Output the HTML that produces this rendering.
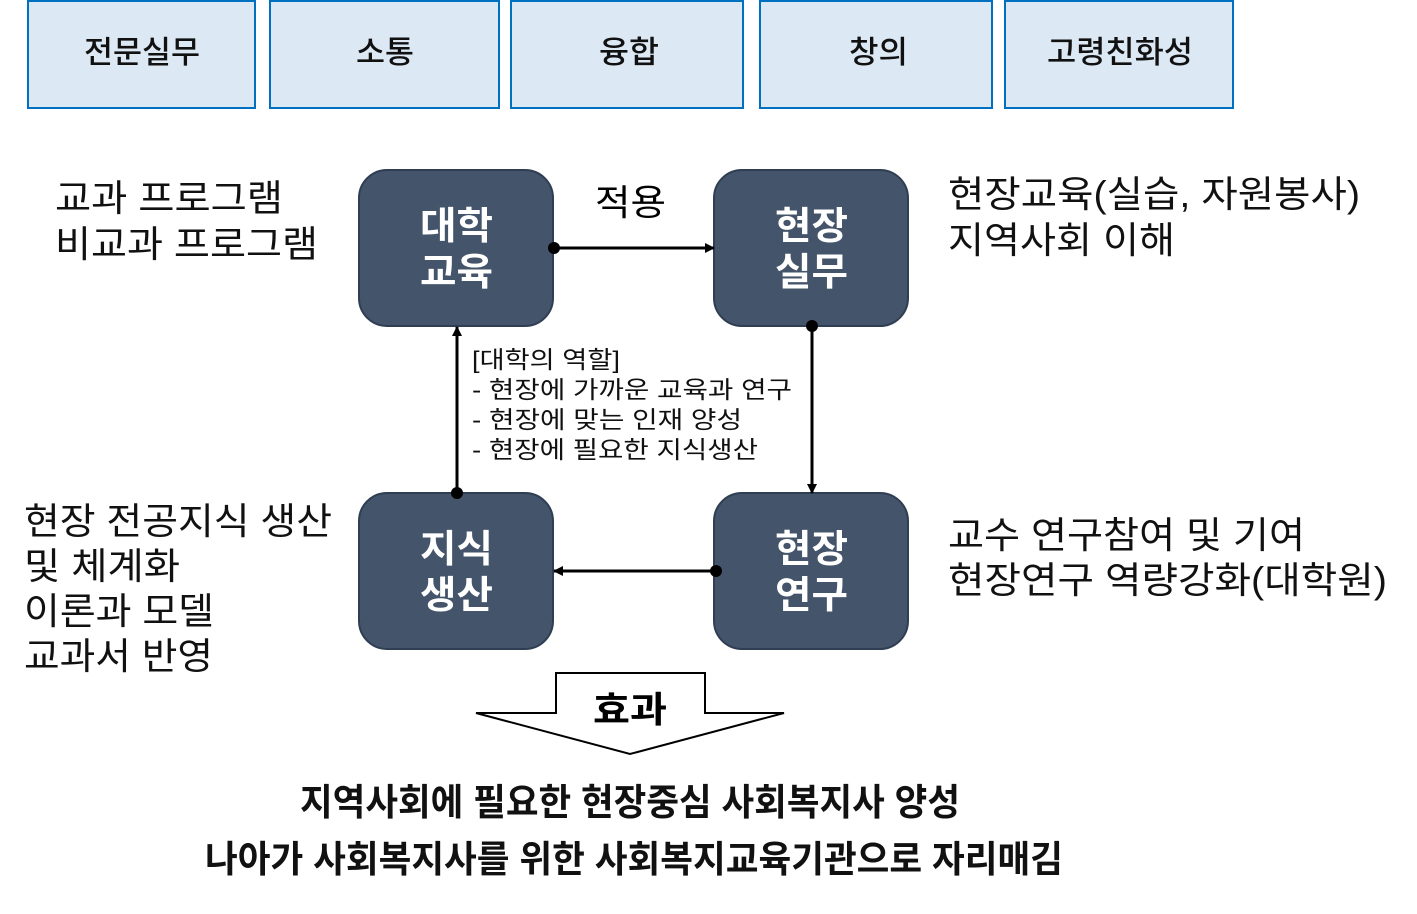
<!DOCTYPE html>
<html><head><meta charset="utf-8"><style>
html,body{margin:0;padding:0;background:#fff;}
svg text{font-family:"Liberation Sans","Noto Sans CJK KR",sans-serif;}
</style></head><body>
<svg width="1417" height="909" viewBox="0 0 1417 909" xmlns="http://www.w3.org/2000/svg">
<defs><marker id="a" markerWidth="10" markerHeight="10" refX="9" refY="5" orient="auto" markerUnits="userSpaceOnUse"><path d="M0,0 L10,5 L0,10 z" fill="#000"/></marker></defs>
<g fill="#dde8f5" stroke="#0070c0" stroke-width="2">
<rect x="28" y="1" width="227" height="107"/>
<rect x="270" y="1" width="229" height="107"/>
<rect x="511" y="1" width="232" height="107"/>
<rect x="760" y="1" width="232" height="107"/>
<rect x="1005" y="1" width="228" height="107"/>
</g>
<g font-size="31" font-weight="500" fill="#111" lengthAdjust="spacingAndGlyphs">
<text x="84" y="63" textLength="116" lengthAdjust="spacingAndGlyphs">전문실무</text>
<text x="356" y="63" textLength="58" lengthAdjust="spacingAndGlyphs">소통</text>
<text x="599" y="63" textLength="60" lengthAdjust="spacingAndGlyphs">융합</text>
<text x="849" y="63" textLength="59" lengthAdjust="spacingAndGlyphs">창의</text>
<text x="1047" y="63" textLength="146" lengthAdjust="spacingAndGlyphs">고령친화성</text>
</g>
<g fill="#44546a" stroke="#2f3e52" stroke-width="2">
<rect x="359" y="170" width="194" height="156" rx="28"/>
<rect x="714" y="170" width="194" height="156" rx="28"/>
<rect x="359" y="493" width="194" height="156" rx="28"/>
<rect x="714" y="493" width="194" height="156" rx="28"/>
</g>
<g font-size="38" font-weight="bold" fill="#fff">
<text x="420" y="239" textLength="73" lengthAdjust="spacingAndGlyphs">대학</text><text x="420" y="285" textLength="73" lengthAdjust="spacingAndGlyphs">교육</text>
<text x="775" y="239" textLength="73" lengthAdjust="spacingAndGlyphs">현장</text><text x="775" y="285" textLength="73" lengthAdjust="spacingAndGlyphs">실무</text>
<text x="420" y="562" textLength="73" lengthAdjust="spacingAndGlyphs">지식</text><text x="420" y="608" textLength="73" lengthAdjust="spacingAndGlyphs">생산</text>
<text x="775" y="562" textLength="73" lengthAdjust="spacingAndGlyphs">현장</text><text x="775" y="608" textLength="73" lengthAdjust="spacingAndGlyphs">연구</text>
</g>
<g stroke="#000" stroke-width="3" fill="none">
<line x1="554" y1="248" x2="714" y2="248" marker-end="url(#a)"/>
<line x1="812" y1="326" x2="812" y2="493" marker-end="url(#a)"/>
<line x1="716" y1="571" x2="554" y2="571" marker-end="url(#a)"/>
<line x1="457" y1="493" x2="457" y2="327" marker-end="url(#a)"/>
</g>
<g fill="#000"><circle cx="554" cy="248" r="6"/><circle cx="812" cy="326" r="6"/><circle cx="716" cy="571" r="6"/><circle cx="457" cy="493" r="6"/></g>
<text x="595" y="215" font-size="36" textLength="71" lengthAdjust="spacingAndGlyphs">적용</text>
<g font-size="24" fill="#111">
<text x="472" y="368" textLength="148" lengthAdjust="spacingAndGlyphs">[대학의 역할]</text>
<text x="472" y="398" textLength="320" lengthAdjust="spacingAndGlyphs">- 현장에 가까운 교육과 연구</text>
<text x="472" y="428" textLength="270" lengthAdjust="spacingAndGlyphs">- 현장에 맞는 인재 양성</text>
<text x="472" y="458" textLength="286" lengthAdjust="spacingAndGlyphs">- 현장에 필요한 지식생산</text>
</g>
<g font-size="37" fill="#111">
<text x="55" y="211" textLength="228" lengthAdjust="spacingAndGlyphs">교과 프로그램</text>
<text x="55" y="257" textLength="263" lengthAdjust="spacingAndGlyphs">비교과 프로그램</text>
<text x="948" y="207" textLength="412" lengthAdjust="spacingAndGlyphs">현장교육(실습, 자원봉사)</text>
<text x="948" y="253" textLength="227" lengthAdjust="spacingAndGlyphs">지역사회 이해</text>
<text x="24" y="534" textLength="308" lengthAdjust="spacingAndGlyphs">현장 전공지식 생산</text>
<text x="24" y="579" textLength="156" lengthAdjust="spacingAndGlyphs">및 체계화</text>
<text x="24" y="624" textLength="190" lengthAdjust="spacingAndGlyphs">이론과 모델</text>
<text x="24" y="669" textLength="189" lengthAdjust="spacingAndGlyphs">교과서 반영</text>
<text x="948" y="548" textLength="357" lengthAdjust="spacingAndGlyphs">교수 연구참여 및 기여</text>
<text x="948" y="593" textLength="439" lengthAdjust="spacingAndGlyphs">현장연구 역량강화(대학원)</text>
</g>
<path d="M556,673 L705,673 L705,713 L784,713 L630,754 L476,713 L556,713 Z" fill="#fff" stroke="#000" stroke-width="2"/>
<text x="593" y="722" font-size="36" font-weight="bold" textLength="74" lengthAdjust="spacingAndGlyphs">효과</text>
<g font-size="37" font-weight="bold" fill="#111">
<text x="300" y="815" textLength="660" lengthAdjust="spacingAndGlyphs">지역사회에 필요한 현장중심 사회복지사 양성</text>
<text x="205" y="872" textLength="858" lengthAdjust="spacingAndGlyphs">나아가 사회복지사를 위한 사회복지교육기관으로 자리매김</text>
</g>
</svg>
</body></html>
